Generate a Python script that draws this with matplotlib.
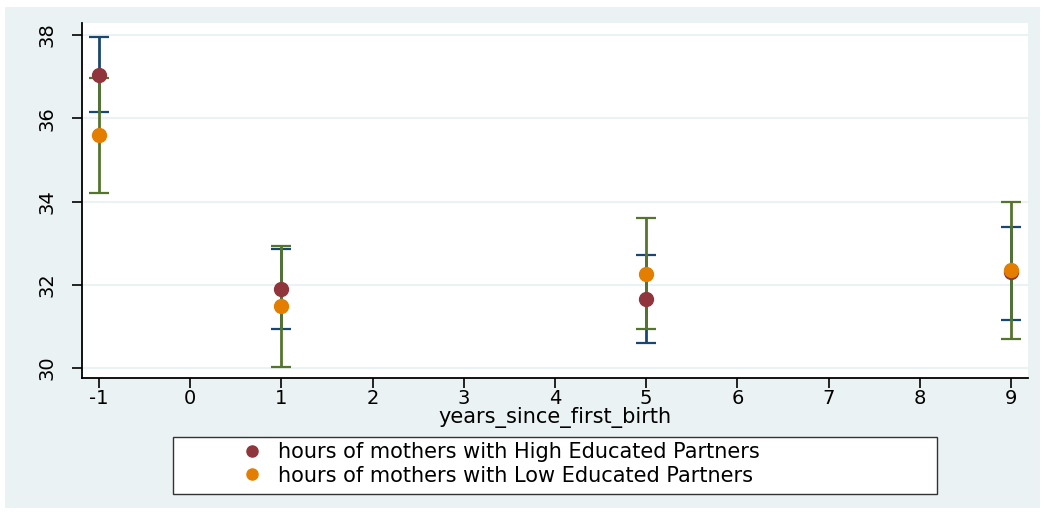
import matplotlib
matplotlib.use("Agg")
import matplotlib.pyplot as plt
from matplotlib.patches import Rectangle

plt.rcParams['font.family'] = ['DejaVu Sans']

# Mean hours and 95% confidence intervals by years since first birth
years = [-1, 1, 5, 9]
high_mean = [37.03, 31.90, 31.66, 32.30]
high_lo = [36.15, 30.94, 30.61, 31.15]
high_hi = [37.95, 32.87, 32.71, 33.39]
low_mean = [35.59, 31.48, 32.27, 32.35]
low_lo = [34.21, 30.03, 30.94, 30.70]
low_hi = [36.97, 32.93, 33.61, 33.99]

x_ticks = list(range(-1, 10))
y_ticks = [30, 32, 34, 36, 38]
labels = ["hours of mothers with High Educated Partners",
          "hours of mothers with Low Educated Partners"]

NAVY = "#1a476f"
MAROON = "#90353b"
GREEN = "#55752f"
ORANGE = "#e37e00"
BG = "#eaf2f3"
FS_TICK = 14
FS = 15

W, H = 1044, 515
fig = plt.figure(figsize=(W / 100, H / 100), dpi=100)
fig.patch.set_facecolor("white")
fig.patches.append(Rectangle((5 / W, 7 / H), 1035 / W, 501 / H,
                             transform=fig.transFigure, facecolor=BG,
                             edgecolor="none", zorder=-1))

ax = fig.add_axes([82 / W, (H - 378) / H, 946 / W, 355 / H])
ax.set_facecolor("white")
ax.set_zorder(1)

for lo, hi, c in [(high_lo, high_hi, NAVY), (low_lo, low_hi, GREEN)]:
    mid = [(a + b) / 2 for a, b in zip(lo, hi)]
    err = [[m - a for m, a in zip(mid, lo)], [b - m for m, b in zip(mid, hi)]]
    ax.errorbar(years, mid, yerr=err, fmt="none", ecolor=c, elinewidth=2.0,
                capsize=7, capthick=1.6, zorder=3)

ax.plot(years, high_mean, "o", color=MAROON, markersize=10, zorder=4,
        label=labels[0])
ax.plot(years, low_mean, "o", color=ORANGE, markersize=10, zorder=5,
        label=labels[1])

ax.set_xlim(-1.186, 9.186)
ax.set_ylim(29.76, 38.29)
ax.set_xticks(x_ticks)
ax.set_xticklabels([str(v).replace("\u2212", "-") for v in x_ticks])
ax.set_yticks(y_ticks)
ax.set_yticklabels([str(v) for v in y_ticks], rotation=90, va="center")
ax.tick_params(axis="both", labelsize=FS_TICK, direction="out", length=7,
               width=1.2, colors="black")
ax.tick_params(axis="y", pad=11)
ax.tick_params(axis="x", pad=1)
ax.grid(axis="y", color=BG, linewidth=1.5, zorder=1)
ax.set_axisbelow(True)
for s in ["top", "right"]:
    ax.spines[s].set_visible(False)
for s in ["left", "bottom"]:
    ax.spines[s].set_linewidth(1.3)
ax.set_xlabel("years_since_first_birth", fontsize=FS)
ax.xaxis.set_label_coords(0.5, -(423 - 378) / 355)
ax.xaxis.label.set_va("baseline")

# legend box
fig.patches.append(Rectangle((173 / W, (H - 494) / H), 764 / W, 57 / H,
                             transform=fig.transFigure, facecolor="white",
                             edgecolor="#333333", linewidth=1.0, zorder=2))
h, l = ax.get_legend_handles_labels()
leg = fig.legend(h, l, loc="center left",
                 bbox_to_anchor=(231 / W, (H - 464) / H),
                 frameon=False, fontsize=FS, handletextpad=0.75,
                 handlelength=1.0, labelspacing=0.15, markerscale=0.8,
                 borderpad=0)
leg.set_zorder(3)

fig.savefig("out.png", dpi=100, facecolor=fig.get_facecolor())
